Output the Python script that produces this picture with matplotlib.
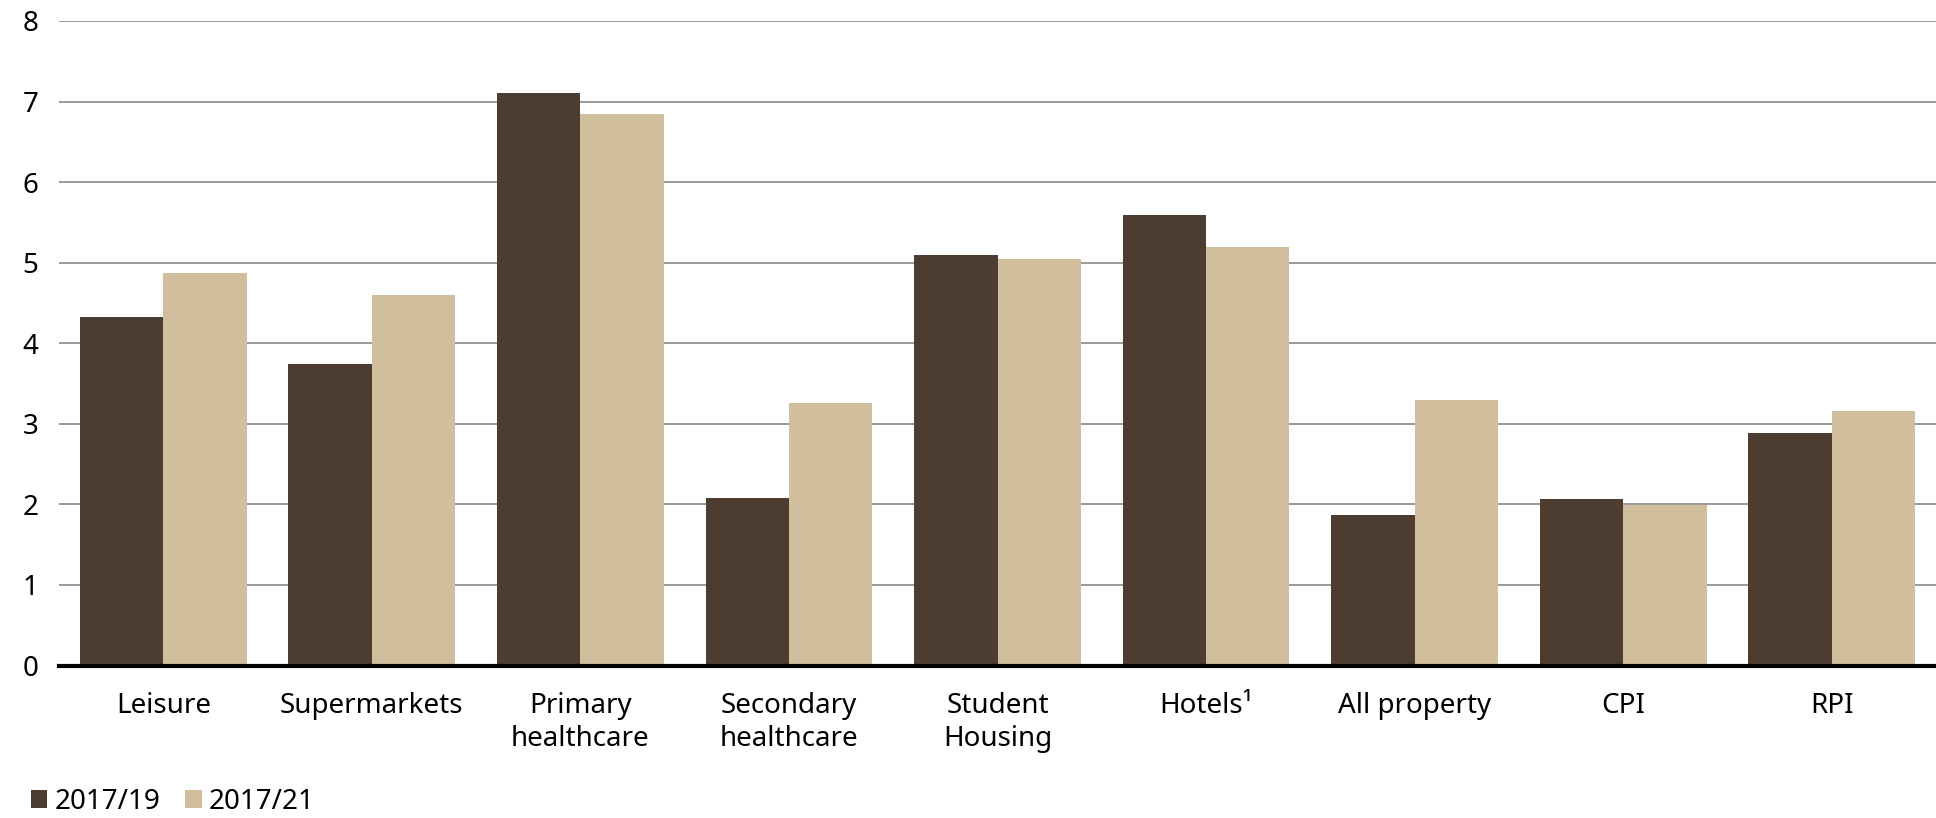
import numpy as np
import matplotlib.pyplot as plt

plt.rcParams['font.family'] = ['Noto Sans', 'DejaVu Sans']

# Data
categories = ['Leisure', 'Supermarkets', 'Primary\nhealthcare', 'Secondary\nhealthcare',
              'Student\nHousing', 'Hotels\u00b9', 'All property', 'CPI', 'RPI']
s_2017_19 = [4.32, 3.74, 7.10, 2.08, 5.10, 5.59, 1.87, 2.07, 2.88]
s_2017_21 = [4.87, 4.60, 6.85, 3.26, 5.04, 5.20, 3.29, 1.99, 3.16]
series_names = ['2017/19', '2017/21']
yticks = [0, 1, 2, 3, 4, 5, 6, 7, 8]

c_dark = '#4d3c30'
c_light = '#d1be9c'

fig = plt.figure(figsize=(19.36, 8.18), dpi=100)
ax = fig.add_axes([0.0305, 0.1864, 0.9695, 0.788])

x = np.arange(len(categories))
w = 0.4
b1 = ax.bar(x - w / 2, s_2017_19, width=w, color=c_dark, zorder=3)
b2 = ax.bar(x + w / 2, s_2017_21, width=w, color=c_light, zorder=3)

ax.set_xlim(-0.5, len(categories) - 0.5)
ax.set_ylim(0, 8)
ax.set_yticks(yticks)
ax.set_xticks(x)
ax.set_xticklabels(categories, fontsize=20, linespacing=1.25)
ax.tick_params(axis='y', labelsize=20, length=0, pad=15)
ax.tick_params(axis='x', length=0, pad=19)

ax.yaxis.grid(True, color='#9a9a9a', linewidth=1.4, zorder=0)
for s in ['top', 'right', 'left']:
    ax.spines[s].set_visible(False)
ax.spines['bottom'].set_linewidth(3)
ax.spines['bottom'].set_color('black')
ax.spines['bottom'].set_zorder(4)

fig.legend([b1, b2], series_names, loc='lower left', bbox_to_anchor=(0.003, -0.028),
           ncol=2, frameon=False, fontsize=20, handlelength=0.6, handleheight=0.6,
           handletextpad=0.25, columnspacing=0.9)

fig.savefig('out.png', dpi=100)
